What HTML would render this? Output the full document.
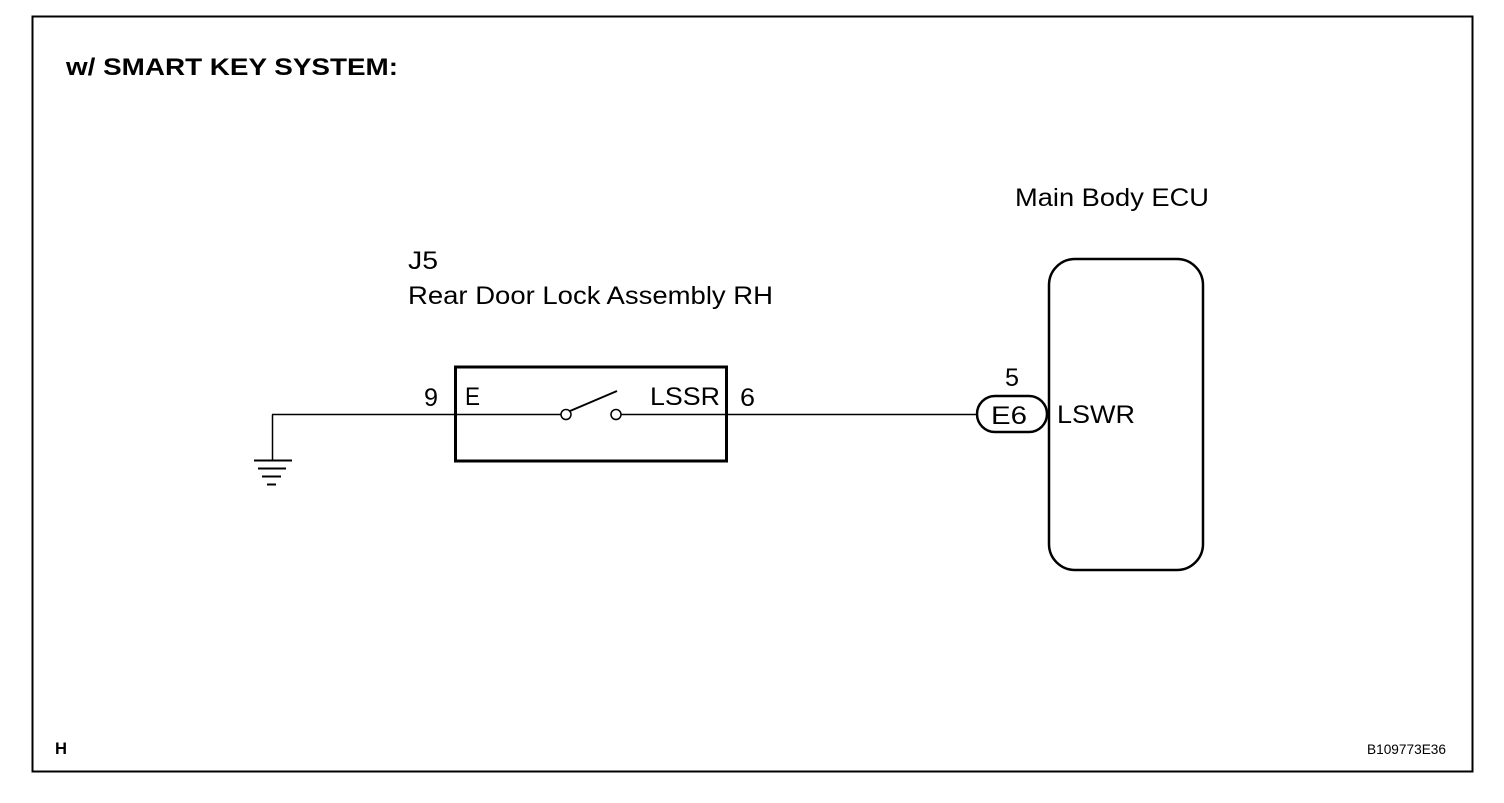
<!DOCTYPE html>
<html><head><style>
body{margin:0;background:#fff}
svg text{font-family:"Liberation Sans",sans-serif;fill:#000}
</style></head><body>
<svg width="1504" height="798" viewBox="0 0 1504 798" xmlns="http://www.w3.org/2000/svg">
<rect x="32.5" y="16.5" width="1440" height="755" fill="none" stroke="#000" stroke-width="2"/>
<text x="66" y="75" font-size="24" font-weight="bold" textLength="332" lengthAdjust="spacingAndGlyphs">w/ SMART KEY SYSTEM:</text>
<text x="1015" y="206" font-size="25" textLength="194" lengthAdjust="spacingAndGlyphs">Main Body ECU</text>
<text x="408" y="269" font-size="25" textLength="30" lengthAdjust="spacingAndGlyphs">J5</text>
<text x="408" y="304" font-size="25" textLength="365" lengthAdjust="spacingAndGlyphs">Rear Door Lock Assembly RH</text>
<line x1="272.5" y1="414.5" x2="272.5" y2="460" stroke="#000" stroke-width="1.5"/>
<line x1="254" y1="460.5" x2="292" y2="460.5" stroke="#000" stroke-width="2"/>
<line x1="258" y1="468.5" x2="286" y2="468.5" stroke="#000" stroke-width="2"/>
<line x1="262" y1="476.5" x2="281" y2="476.5" stroke="#000" stroke-width="2"/>
<line x1="267" y1="484.5" x2="276" y2="484.5" stroke="#000" stroke-width="2"/>
<line x1="272" y1="414.5" x2="561" y2="414.5" stroke="#000" stroke-width="1.5"/>
<line x1="621" y1="414.5" x2="977" y2="414.5" stroke="#000" stroke-width="1.5"/>
<rect x="455.5" y="367" width="271" height="94" fill="none" stroke="#000" stroke-width="3"/>
<circle cx="566" cy="414.5" r="5" fill="#fff" stroke="#000" stroke-width="1.5"/>
<circle cx="616" cy="414.5" r="5" fill="#fff" stroke="#000" stroke-width="1.5"/>
<line x1="570" y1="411" x2="617" y2="391" stroke="#000" stroke-width="2"/>
<text x="424" y="406" font-size="25" textLength="14" lengthAdjust="spacingAndGlyphs">9</text>
<text x="465" y="405" font-size="25" textLength="15" lengthAdjust="spacingAndGlyphs">E</text>
<text x="650" y="405" font-size="25" textLength="70" lengthAdjust="spacingAndGlyphs">LSSR</text>
<text x="740" y="406" font-size="25" textLength="15" lengthAdjust="spacingAndGlyphs">6</text>
<rect x="1049" y="259" width="154" height="311" rx="26" fill="none" stroke="#000" stroke-width="2.5"/>
<rect x="977" y="396" width="70" height="36" rx="18" fill="#fff" stroke="#000" stroke-width="2.5"/>
<text x="991" y="424" font-size="25" textLength="36" lengthAdjust="spacingAndGlyphs">E6</text>
<text x="1005" y="386" font-size="25" textLength="14" lengthAdjust="spacingAndGlyphs">5</text>
<text x="1057" y="423" font-size="25" textLength="78" lengthAdjust="spacingAndGlyphs">LSWR</text>
<text x="55" y="754" font-size="17" font-weight="bold" textLength="12" lengthAdjust="spacingAndGlyphs">H</text>
<text x="1367" y="754" font-size="14" textLength="79" lengthAdjust="spacingAndGlyphs">B109773E36</text>
</svg>
</body></html>
